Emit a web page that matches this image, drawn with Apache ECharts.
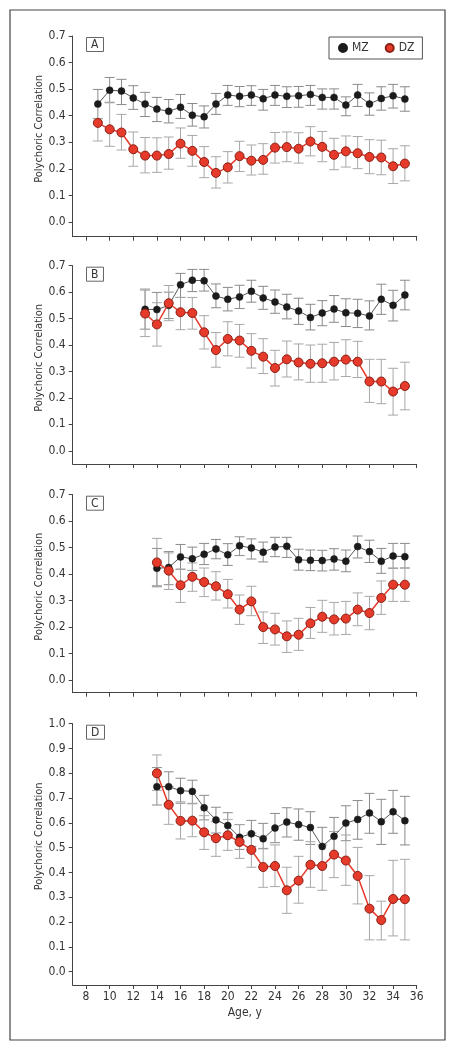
<!DOCTYPE html>
<html>
<head>
<meta charset="utf-8">
<script src="https://cdn.jsdelivr.net/npm/echarts@6/dist/echarts.min.js"></script>
<style>
html,body{margin:0;padding:0;background:#fff;}
#chart{width:455px;height:1050px;}
</style>
</head>
<body>
<div id="chart"></div>
<script>
// ---------- DATA ----------
const xTicks = [8,10,12,14,16,18,20,22,24,26,28,30,32,34,36];
const yTicksABC = [0,0.1,0.2,0.3,0.4,0.5,0.6,0.7];
const yTicksD = [0,0.1,0.2,0.3,0.4,0.5,0.6,0.7,0.8,0.9,1.0];
const panelLabels = ['A','B','C','D'];
const seriesNames = ['MZ','DZ'];
const xTitle = 'Age, y';
const yTitle = 'Polychoric Correlation';

const agesA = [9,10,11,12,13,14,15,16,17,18,19,20,21,22,23,24,25,26,27,28,29,30,31,32,33,34,35];
const mzA   = [0.444,0.496,0.493,0.467,0.444,0.425,0.417,0.432,0.402,0.396,0.444,0.478,0.473,0.478,0.464,0.478,0.473,0.475,0.480,0.469,0.469,0.440,0.478,0.444,0.465,0.475,0.463];
const mzALo = [0.389,0.449,0.442,0.424,0.397,0.378,0.373,0.390,0.361,0.354,0.405,0.439,0.434,0.439,0.421,0.439,0.431,0.432,0.439,0.425,0.425,0.400,0.435,0.402,0.421,0.429,0.417];
const mzAHi = [0.499,0.544,0.537,0.513,0.488,0.469,0.461,0.480,0.446,0.437,0.484,0.514,0.510,0.513,0.499,0.514,0.509,0.510,0.514,0.501,0.501,0.471,0.518,0.486,0.509,0.518,0.509];
const dzA   = [0.373,0.349,0.337,0.274,0.250,0.250,0.256,0.295,0.268,0.226,0.185,0.206,0.248,0.231,0.234,0.280,0.282,0.276,0.303,0.283,0.253,0.266,0.259,0.245,0.243,0.210,0.220];
const dzALo = [0.305,0.285,0.271,0.210,0.185,0.187,0.199,0.240,0.210,0.167,0.128,0.147,0.190,0.177,0.180,0.222,0.227,0.222,0.249,0.227,0.197,0.207,0.201,0.182,0.178,0.145,0.155];
const dzAHi = [0.390,0.451,0.405,0.339,0.318,0.317,0.320,0.354,0.326,0.284,0.246,0.265,0.304,0.290,0.295,0.337,0.339,0.336,0.359,0.341,0.315,0.324,0.322,0.310,0.308,0.276,0.287];

const agesB = [13,14,15,16,17,18,19,20,21,22,23,24,25,26,27,28,29,30,31,32,33,34,35];
const mzB   = [0.535,0.534,0.550,0.628,0.645,0.643,0.585,0.573,0.582,0.603,0.578,0.563,0.544,0.529,0.504,0.521,0.536,0.522,0.520,0.510,0.573,0.550,0.589];
const mzBLo = [0.460,0.485,0.500,0.580,0.602,0.604,0.541,0.529,0.538,0.562,0.535,0.520,0.499,0.478,0.457,0.473,0.486,0.470,0.466,0.457,0.516,0.491,0.533];
const mzBHi = [0.608,0.599,0.600,0.671,0.686,0.686,0.631,0.618,0.626,0.645,0.622,0.608,0.592,0.577,0.554,0.568,0.587,0.575,0.573,0.567,0.630,0.607,0.645];
const dzB   = [0.519,0.478,0.558,0.524,0.521,0.448,0.381,0.423,0.417,0.378,0.356,0.313,0.346,0.334,0.329,0.331,0.337,0.345,0.337,0.262,0.262,0.224,0.245];
const dzBLo = [0.432,0.396,0.492,0.458,0.460,0.385,0.316,0.359,0.354,0.313,0.292,0.245,0.279,0.268,0.259,0.259,0.268,0.281,0.277,0.183,0.178,0.135,0.155];
const dzBHi = [0.612,0.560,0.625,0.580,0.580,0.511,0.447,0.488,0.478,0.443,0.424,0.380,0.415,0.404,0.400,0.403,0.410,0.420,0.414,0.346,0.346,0.312,0.335];

const agesC = [14,15,16,17,18,19,20,21,22,23,24,25,26,27,28,29,30,31,32,33,34,35];
const mzC   = [0.422,0.425,0.465,0.458,0.475,0.495,0.473,0.507,0.499,0.483,0.502,0.505,0.454,0.452,0.451,0.457,0.449,0.504,0.485,0.449,0.468,0.466];
const mzCLo = [0.352,0.360,0.418,0.414,0.436,0.458,0.433,0.470,0.457,0.446,0.466,0.463,0.415,0.413,0.412,0.415,0.409,0.461,0.444,0.403,0.422,0.423];
const mzCHi = [0.497,0.485,0.512,0.502,0.516,0.531,0.515,0.541,0.533,0.521,0.539,0.539,0.494,0.491,0.490,0.496,0.491,0.544,0.528,0.497,0.516,0.516];
const dzC   = [0.444,0.413,0.358,0.390,0.370,0.354,0.324,0.266,0.297,0.200,0.191,0.165,0.171,0.214,0.239,0.229,0.232,0.266,0.253,0.310,0.360,0.360];
const dzCLo = [0.357,0.342,0.293,0.335,0.315,0.302,0.272,0.210,0.243,0.138,0.132,0.104,0.112,0.157,0.180,0.170,0.172,0.205,0.190,0.248,0.297,0.297];
const dzCHi = [0.535,0.480,0.419,0.442,0.423,0.409,0.380,0.321,0.354,0.257,0.252,0.223,0.233,0.274,0.301,0.293,0.297,0.329,0.316,0.374,0.423,0.423];

const agesD = [14,15,16,17,18,19,20,21,22,23,24,25,26,27,28,29,30,31,32,33,34,35];
const mzD   = [0.746,0.746,0.730,0.727,0.661,0.612,0.589,0.542,0.556,0.536,0.579,0.603,0.593,0.581,0.505,0.546,0.599,0.614,0.640,0.605,0.645,0.609];
const mzDLo = [0.672,0.675,0.679,0.677,0.612,0.559,0.540,0.493,0.505,0.497,0.520,0.543,0.530,0.513,0.431,0.473,0.528,0.534,0.558,0.513,0.558,0.511];
const mzDHi = [0.823,0.806,0.780,0.772,0.711,0.663,0.641,0.593,0.610,0.598,0.638,0.661,0.656,0.645,0.582,0.622,0.669,0.690,0.719,0.695,0.731,0.707];
const dzD   = [0.800,0.673,0.608,0.609,0.562,0.538,0.550,0.523,0.491,0.422,0.426,0.328,0.367,0.431,0.426,0.472,0.448,0.386,0.254,0.208,0.293,0.292];
const dzDLo = [0.731,0.594,0.535,0.544,0.493,0.465,0.489,0.457,0.421,0.340,0.343,0.235,0.276,0.340,0.328,0.379,0.348,0.273,0.128,0.128,0.144,0.128];
const dzDHi = [0.874,0.746,0.685,0.679,0.629,0.605,0.614,0.593,0.559,0.495,0.511,0.421,0.465,0.524,0.511,0.565,0.551,0.501,0.387,0.284,0.449,0.453];

// ---------- BUILD ----------
const FONT = "'Liberation Sans Narrow','DejaVu Sans Condensed','Arial Narrow',sans-serif";
const TXT = '#333';
const AX = '#444';
const RED = '#e63a2b';

const panels = [
  {ages: agesA, mz: mzA, mzLo: mzALo, mzHi: mzAHi, dz: dzA, dzLo: dzALo, dzHi: dzAHi, yTicks: yTicksABC, ymax: 0.7, ymin: -0.055, top: 36, bottom: 236.7, showX: false, nameShift: 15},
  {ages: agesB, mz: mzB, mzLo: mzBLo, mzHi: mzBHi, dz: dzB, dzLo: dzBLo, dzHi: dzBHi, yTicks: yTicksABC, ymax: 0.7, ymin: -0.05, top: 265.7, bottom: 464, showX: false, nameShift: 14},
  {ages: agesC, mz: mzC, mzLo: mzCLo, mzHi: mzCHi, dz: dzC, dzLo: dzCLo, dzHi: dzCHi, yTicks: yTicksABC, ymax: 0.7, ymin: -0.048, top: 494.7, bottom: 692.7, showX: false, nameShift: 14},
  {ages: agesD, mz: mzD, mzLo: mzDLo, mzHi: mzDHi, dz: dzD, dzLo: dzDLo, dzHi: dzDHi, yTicks: yTicksD, ymax: 1.0, ymin: -0.054, top: 723.7, bottom: 985, showX: true, nameShift: 36}
];

const GRID_LEFT = 72.7, GRID_RIGHT_X = 416.7;
const grid = [], xAxis = [], yAxis = [], series = [], title = [];

function errRenderer(color) {
  return function (params, api) {
    const x = api.value(0), lo = api.value(1), hi = api.value(2);
    const p1 = api.coord([x, hi]), p2 = api.coord([x, lo]);
    const hw = 5;
    const style = {stroke: color, lineWidth: 1};
    return {type: 'group', children: [
      {type: 'line', shape: {x1: p1[0], y1: p1[1], x2: p2[0], y2: p2[1]}, style: style},
      {type: 'line', shape: {x1: p1[0]-hw, y1: p1[1], x2: p1[0]+hw, y2: p1[1]}, style: style},
      {type: 'line', shape: {x1: p2[0]-hw, y1: p2[1], x2: p2[0]+hw, y2: p2[1]}, style: style}
    ]};
  };
}

panels.forEach(function (p, i) {
  grid.push({left: GRID_LEFT, width: GRID_RIGHT_X - GRID_LEFT, top: p.top, height: p.bottom - p.top, containLabel: false});
  xAxis.push({
    type: 'value', gridIndex: i, min: 6.87, max: 36, position: 'bottom',
    axisLine: {show: true, onZero: false, lineStyle: {color: AX, width: 1}},
    axisTick: {show: true, inside: false, length: 4, customValues: xTicks, lineStyle: {color: AX}},
    axisLabel: {show: true, customValues: xTicks, margin: 6, color: TXT, fontSize: 12, fontFamily: FONT,
      formatter: p.showX ? function (v) { return String(v); } : function () { return ''; }},
    splitLine: {show: false},
    name: p.showX ? xTitle : '', nameLocation: 'middle', nameGap: 22, nameMoveOverlap: false,
    nameTextStyle: {color: TXT, fontSize: 12, fontFamily: FONT}
  });
  yAxis.push({
    type: 'value', gridIndex: i, min: p.ymin, max: p.ymax, position: 'left',
    axisLine: {show: true, onZero: false, lineStyle: {color: AX, width: 1}},
    axisTick: {show: true, inside: false, length: 4, customValues: p.yTicks, lineStyle: {color: AX}},
    axisLabel: {show: true, customValues: p.yTicks, margin: 7, color: TXT, fontSize: 12, fontFamily: FONT,
      formatter: function (v) { return v.toFixed(1); }},
    splitLine: {show: false},
    name: yTitle, nameLocation: 'middle', nameGap: 28, nameRotate: 90, nameMoveOverlap: false,
    nameTextStyle: {color: TXT, fontSize: 11, fontFamily: FONT, padding: [0, 0, 0, p.nameShift]}
  });
  const mzErr = p.ages.map(function (a, k) { return [a, p.mzLo[k], p.mzHi[k]]; });
  const dzErr = p.ages.map(function (a, k) { return [a, p.dzLo[k], p.dzHi[k]]; });
  series.push({type: 'custom', name: 'MZ CI', xAxisIndex: i, yAxisIndex: i, renderItem: errRenderer('#8a8a8a'),
    encode: {x: 0, y: [1, 2]}, data: mzErr, z: 1, silent: true});
  series.push({type: 'custom', name: 'DZ CI', xAxisIndex: i, yAxisIndex: i, renderItem: errRenderer('#a8a8a8'),
    encode: {x: 0, y: [1, 2]}, data: dzErr, z: 1, silent: true});
  series.push({type: 'line', name: seriesNames[0], xAxisIndex: i, yAxisIndex: i,
    data: p.ages.map(function (a, k) { return [a, p.mz[k]]; }),
    symbol: 'circle', symbolSize: 7, showAllSymbol: true,
    lineStyle: {color: '#555', width: 1},
    itemStyle: {color: '#1b1b1b', borderColor: '#1b1b1b', borderWidth: 0.5},
    z: 3, animation: false});
  series.push({type: 'line', name: seriesNames[1], xAxisIndex: i, yAxisIndex: i,
    data: p.ages.map(function (a, k) { return [a, p.dz[k]]; }),
    symbol: 'circle', symbolSize: 9, showAllSymbol: true,
    lineStyle: {color: RED, width: 1.5},
    itemStyle: {color: RED, borderColor: '#8a2016', borderWidth: 1},
    z: 4, animation: false});
  title.push({text: panelLabels[i], left: 86, top: p.top + 1, padding: [2, 5, 1, 5],
    borderColor: '#666', borderWidth: 1,
    textStyle: {color: TXT, fontSize: 12, fontWeight: 'normal', fontFamily: FONT}});
});

const chart = echarts.init(document.getElementById('chart'), null, {renderer: 'canvas'});
chart.setOption({
  animation: false,
  backgroundColor: '#fff',
  title: title,
  legend: {
    data: [{name: seriesNames[0], icon: 'circle'}, {name: seriesNames[1], icon: 'circle'}],
    left: 329, top: 37, padding: [5, 8, 5, 9], itemGap: 16, itemWidth: 8, itemHeight: 8,
    borderColor: '#555', borderWidth: 1, selectedMode: false,
    textStyle: {color: TXT, fontSize: 12, fontFamily: FONT}
  },
  graphic: [{type: 'rect', shape: {x: 10, y: 10, width: 435, height: 1030},
    style: {fill: 'none', stroke: '#444', lineWidth: 1.2}, silent: true}],
  grid: grid, xAxis: xAxis, yAxis: yAxis, series: series
});
</script>
</body>
</html>
